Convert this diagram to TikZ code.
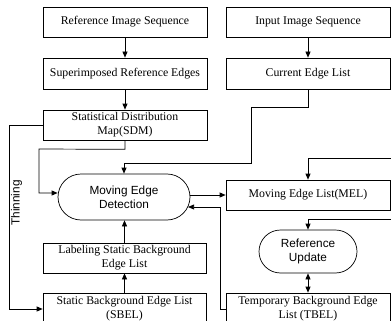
\documentclass[tikz,border=0pt]{standalone}
\usepackage{fontspec}
\setmainfont{Liberation Serif}
\newfontfamily\pillfont{Liberation Sans}
\usetikzlibrary{arrows.meta,shapes.misc,calc}
\begin{document}
\begin{tikzpicture}[x=1pt,y=-1pt,
  box/.style={draw,line width=0.7pt,minimum width=164pt,minimum height=30pt,inner sep=0pt,align=center,font=\fontsize{11.8}{14}\selectfont},
  pill/.style={draw,line width=0.7pt,rounded rectangle,inner sep=0pt,align=center,font=\pillfont\fontsize{11.8}{14}\selectfont},
  conn/.style={line width=0.7pt,-{Triangle[length=6pt,width=5pt]}},
  dconn/.style={line width=0.7pt,{Triangle[length=6pt,width=5pt]}-{Triangle[length=6pt,width=5pt]}},
  lbl/.style={font=\pillfont\fontsize{11.8}{14}\selectfont}]
\useasboundingbox (0,0) rectangle (391,321);
% left column
\node[box] (ris) at (125,22) {Reference Image Sequence};
\node[box,minimum height=31pt] (sre) at (125,73.5) {Superimposed Reference Edges};
\node[box] (sdm) at (125,125) {Statistical Distribution\\Map(SDM)};
\node[pill,minimum width=132pt,minimum height=46pt] (med) at (124,197) {Moving Edge\\Detection};
\node[box,minimum width=163pt] (lsb) at (124.5,258) {Labeling Static Background\\Edge List};
\node[box,minimum width=163pt,minimum height=32pt] (sbel) at (124.5,309) {Static Background Edge List\\(SBEL)};
% right column
\node[box] (iis) at (308,22) {Input Image Sequence};
\node[box,minimum height=31pt] (cel) at (308,73.5) {Current Edge List};
\node[box] (mel) at (308,195) {Moving Edge List(MEL)};
\node[pill,minimum width=98pt,minimum height=43pt] (ru) at (308,251.5) {Reference\\Update};
\node[box,minimum height=32pt] (tbel) at (308,309) {Temporary Background Edge\\List (TBEL)};
% label
\node[lbl,rotate=90] (thin) at (16.5,203) {Thinning};
% free ends
\coordinate (inA) at (395,158);
\coordinate (inB) at (395,219);
% connectors
\draw[conn] (ris) -- (sre);
\draw[conn] (sre) -- (sdm);
\draw[conn] (iis) -- (cel);
\draw[conn] (cel.south) -- ++(0,18) -| (251,163) -| (med.north);
\draw[conn] (sdm.south) -- ++(0,9) -- (39,149) -- (39,193) -- ([yshift=4pt]med.west);
\draw[conn] (sdm.west) -- (9,125) -- (9,309) -- (sbel.west);
\draw[conn] ([yshift=2pt]med.east) -- (mel.west);
\draw[conn] (tbel.west) -- (220,309) -- (220,207) -- ([shift={(-2.3,10)}]med.east);
\draw[conn] (sbel.north) -- (lsb.south);
\draw[conn] (lsb.north) -- (lsb.north |- med.south);
\draw[conn] (inA) -| (mel.north);
\draw[conn] (inB) -| (ru.north);
\draw[dconn] (ru.south) -- (tbel.north);
\end{tikzpicture}
\end{document}
